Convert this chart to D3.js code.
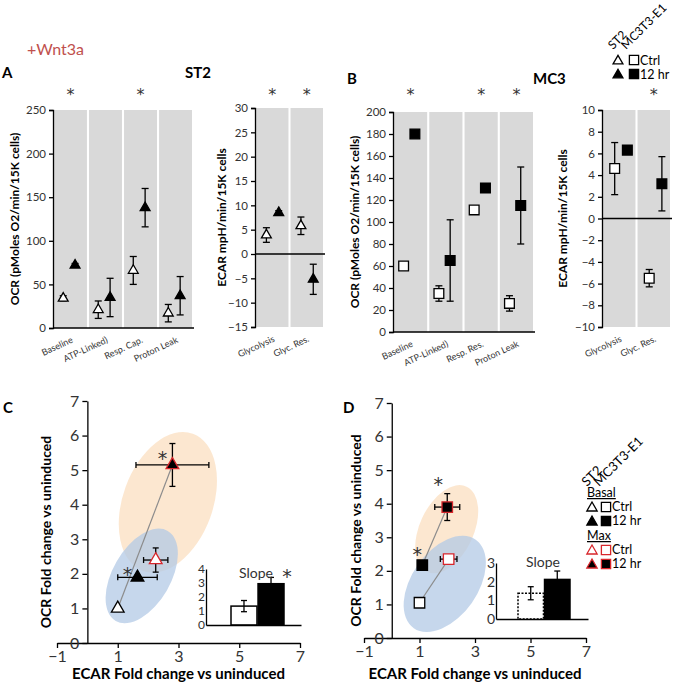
<!DOCTYPE html>
<html>
<head>
<meta charset="utf-8">
<script src="https://cdn.jsdelivr.net/npm/d3@7"></script>
<style>
body { margin: 0; background: #fff; }
text { font-family: Lato, "Open Sans", sans-serif; }
text.star { font-family: "DejaVu Sans", sans-serif; }
</style>
</head>
<body>
<div id="fig"></div>
<script>
// ---- top panels: OCR / ECAR, Ctrl vs 12 hr ----
var ocrCatsST2 = ["Baseline", "ATP-Linked)", "Resp. Cap.", "Proton Leak"];
var ocrCatsMC3 = ["Baseline", "ATP-Linked)", "Resp. Res.", "Proton Leak"];
var ecarCats = ["Glycolysis", "Glyc. Res."];

var st2OcrCtrl = [34, 21, 66, 17], st2OcrCtrlErr = [3, 10, 16, 10];
var st2Ocr12 = [72, 35, 138, 37], st2Ocr12Err = [2, 22, 22, 22];
var st2OcrSig = [1, 0, 1, 0];

var st2EcarCtrl = [3.9, 5.8], st2EcarCtrlErr = [1.5, 1.8];
var st2Ecar12 = [8.5, -5.2], st2Ecar12Err = [0.4, 3.1];
var st2EcarSig = [1, 1];

var mc3OcrCtrl = [60, 35, 111, 26], mc3OcrCtrlErr = [1, 7, 3, 7];
var mc3Ocr12 = [180, 65, 131, 115], mc3Ocr12Err = [1, 37, 1, 35];
var mc3OcrSig = [1, 0, 1, 1];

var mc3EcarCtrl = [4.6, -5.5], mc3EcarCtrlErr = [2.4, 0.8];
var mc3Ecar12 = [6.3, 3.2], mc3Ecar12Err = [0.3, 2.5];
var mc3EcarSig = [0, 1];

// ---- bottom panels: fold change vs uninduced (x = ECAR, y = OCR) ----
// order: [Ctrl, 12 hr]
var st2BasalX = [1, 1.65], st2BasalY = [1, 1.9], st2BasalXErr = [0, 0.65], st2BasalYErr = [0, 0];
var st2MaxX = [2.25, 2.8], st2MaxY = [2.4, 5.15], st2MaxXErr = [0.4, 1.2], st2MaxYErr = [0.35, 0.62];
var st2Slope = [1.35, 2.95], st2SlopeErr = [0.4, 0.45];

var mc3BasalX = [1, 1.1], mc3BasalY = [1.05, 2.17], mc3BasalXErr = [0, 0.15], mc3BasalYErr = [0, 0];
var mc3MaxX = [2.05, 2.0], mc3MaxY = [2.35, 3.9], mc3MaxXErr = [0.3, 0.45], mc3MaxYErr = [0.05, 0.4];
var mc3Slope = [1.38, 2.12], mc3SlopeErr = [0.35, 0.45];

var foldXTicks = [-1, 1, 3, 5, 7];
var foldYTicks = [0, 1, 2, 3, 4, 5, 6, 7];

var RED = "#d8262b";
var GREY = "#d9d9d9";
var FONT = "Lato, 'Open Sans', sans-serif";

var svg = d3.select("#fig").append("svg")
    .attr("width", 678)
    .attr("height", 684);

svg.append("rect").attr("width", 678).attr("height", 684).attr("fill", "#fff");

function addText(x, y, s, size, opts) {
    opts = opts || {};
    var t = svg.append("text")
        .attr("x", x)
        .attr("y", y)
        .attr("font-size", size + "px")
        .attr("font-weight", opts.bold ? "bold" : "normal")
        .attr("fill", opts.fill || "#000")
        .attr("text-anchor", opts.anchor || "start")
        .text(s);
    if (opts.rotate !== undefined) t.attr("transform", "rotate(" + opts.rotate + "," + x + "," + y + ")");
    if (opts.underline) t.attr("text-decoration", "underline");
    if (opts.cls) t.attr("class", opts.cls);
    return t;
}

function star(x, y, size) {
    return addText(x, y, "*", size, { anchor: "middle", fill: "#333", cls: "star" });
}

function marker(g, shape, cx, cy, size, fill, stroke) {
    g.append("path")
        .attr("d", d3.symbol().type(shape).size(size)())
        .attr("transform", "translate(" + cx + "," + cy + ")")
        .attr("fill", fill)
        .attr("stroke", stroke)
        .attr("stroke-width", 1.3);
}

function vErr(g, x, y1, y2, cap) {
    g.append("line").attr("x1", x).attr("x2", x).attr("y1", y1).attr("y2", y2)
        .attr("stroke", "#000").attr("stroke-width", 1.3);
    [y1, y2].forEach(function(yy) {
        g.append("line").attr("x1", x - cap).attr("x2", x + cap).attr("y1", yy).attr("y2", yy)
            .attr("stroke", "#000").attr("stroke-width", 1.3);
    });
}

function hErr(g, y, x1, x2, cap) {
    g.append("line").attr("x1", x1).attr("x2", x2).attr("y1", y).attr("y2", y)
        .attr("stroke", "#000").attr("stroke-width", 1.3);
    [x1, x2].forEach(function(xx) {
        g.append("line").attr("x1", xx).attr("x2", xx).attr("y1", y - cap).attr("y2", y + cap)
            .attr("stroke", "#000").attr("stroke-width", 1.3);
    });
}

// category panel with grey columns
function catPanel(o) {
    var g = svg.append("g");
    var x = d3.scaleBand().domain(o.cats).range([o.x0, o.x1]).paddingInner(0.06);
    var y = d3.scaleLinear().domain(o.dom).range([o.yb, o.yt]);
    var bw = x.bandwidth();

    g.selectAll(".col").data(o.cats).enter().append("rect")
        .attr("x", function(d) { return x(d); })
        .attr("y", o.yt)
        .attr("width", bw)
        .attr("height", o.yb - o.yt)
        .attr("fill", GREY);

    // zero line
    g.append("line")
        .attr("x1", o.x0 - 1).attr("x2", o.x1 + 2)
        .attr("y1", y(0)).attr("y2", y(0))
        .attr("stroke", "#000").attr("stroke-width", 1.5);

    var ax = g.append("g")
        .attr("transform", "translate(" + (o.x0 - 1) + ",0)")
        .call(d3.axisLeft(y).tickValues(o.ticks).tickFormat(d3.format("d")).tickSize(4).tickSizeOuter(4));
    ax.selectAll("path, line").attr("stroke", "#000").attr("stroke-width", 1.3);
    ax.selectAll("text").attr("font-size", "11.5px").attr("fill", "#333").style("font-family", FONT);

    // category labels
    o.cats.forEach(function(c) {
        addText(x(c) + bw / 2 + 3, o.yb + 14, c, 9, { anchor: "end", rotate: -25, fill: "#333" });
    });

    // significance
    o.cats.forEach(function(c, i) {
        if (o.sig[i]) star(x(c) + bw / 2, 100, 16);
    });

    o.cats.forEach(function(c, i) {
        var xc = x(c) + bw * o.posCtrl, x12 = x(c) + bw * o.pos12;
        if (o.ctrlErr[i] > 1.5 * (o.dom[1] - o.dom[0]) / 200)
            vErr(g, xc, y(o.ctrl[i] + o.ctrlErr[i]), y(o.ctrl[i] - o.ctrlErr[i]), 3.5);
        if (o.t12Err[i] > 1.5 * (o.dom[1] - o.dom[0]) / 200)
            vErr(g, x12, y(o.t12[i] + o.t12Err[i]), y(o.t12[i] - o.t12Err[i]), 3.5);
        marker(g, o.shape, xc, y(o.ctrl[i]), o.msize, "#fff", "#000");
        marker(g, o.shape, x12, y(o.t12[i]), o.msize, "#000", "#000");
    });

    var mid = (o.yt + o.yb) / 2;
    addText(o.labelX, mid, o.label, 12, { bold: true, anchor: "middle", rotate: -90 });
}

catPanel({ cats: ocrCatsST2, x0: 54, x1: 192, yt: 110, yb: 328, dom: [0, 250], ticks: [0, 50, 100, 150, 200, 250],
    ctrl: st2OcrCtrl, ctrlErr: st2OcrCtrlErr, t12: st2Ocr12, t12Err: st2Ocr12Err, sig: st2OcrSig,
    posCtrl: 0.28, pos12: 0.64, shape: d3.symbolTriangle, msize: 42,
    label: "OCR (pMoles O2/min/15K cells)", labelX: 19 });

catPanel({ cats: ecarCats, x0: 256, x1: 323, yt: 108, yb: 327, dom: [-15, 30], ticks: [-15, -10, -5, 0, 5, 10, 15, 20, 25, 30],
    ctrl: st2EcarCtrl, ctrlErr: st2EcarCtrlErr, t12: st2Ecar12, t12Err: st2Ecar12Err, sig: st2EcarSig,
    posCtrl: 0.32, pos12: 0.7, shape: d3.symbolTriangle, msize: 42,
    label: "ECAR mpH/min/15K cells", labelX: 226 });

catPanel({ cats: ocrCatsMC3, x0: 394, x1: 533, yt: 112, yb: 332, dom: [0, 200], ticks: [0, 20, 40, 60, 80, 100, 120, 140, 160, 180, 200],
    ctrl: mc3OcrCtrl, ctrlErr: mc3OcrCtrlErr, t12: mc3Ocr12, t12Err: mc3Ocr12Err, sig: mc3OcrSig,
    posCtrl: 0.29, pos12: 0.63, shape: d3.symbolSquare, msize: 95,
    label: "OCR (pMoles O2/min/15K cells)", labelX: 359 });

catPanel({ cats: ecarCats, x0: 603, x1: 670, yt: 110, yb: 327, dom: [-10, 10], ticks: [-10, -8, -6, -4, -2, 0, 2, 4, 6, 8, 10],
    ctrl: mc3EcarCtrl, ctrlErr: mc3EcarCtrlErr, t12: mc3Ecar12, t12Err: mc3Ecar12Err, sig: mc3EcarSig,
    posCtrl: 0.36, pos12: 0.75, shape: d3.symbolSquare, msize: 95,
    label: "ECAR mpH/min/15K cells", labelX: 567 });

// headings
addText(27, 55, "+Wnt3a", 16, { fill: "#c0504d" });
addText(2, 78, "A", 15, { bold: true });
addText(185, 78, "ST2", 15, { bold: true });
addText(347, 84, "B", 15, { bold: true });
addText(533, 84, "MC3", 15, { bold: true });
addText(3, 413, "C", 15, { bold: true });
addText(343, 413, "D", 15, { bold: true });

// top legend
addText(613, 50, "ST2", 12, { rotate: -45 });
addText(626, 50, "MC3T3-E1", 12, { rotate: -45 });
marker(svg, d3.symbolTriangle, 618, 61, 42, "#fff", "#000");
marker(svg, d3.symbolSquare, 634, 60, 85, "#fff", "#000");
addText(640, 65, "Ctrl", 12.5);
marker(svg, d3.symbolTriangle, 618, 75, 42, "#000", "#000");
marker(svg, d3.symbolSquare, 634, 74, 85, "#000", "#000");
addText(640, 79, "12 hr", 12.5);

// ---- fold change panels ----
function foldPanel(o) {
    var g = svg.append("g");
    var x = d3.scaleLinear().domain([-1, 7]).range(o.xr);
    var y = d3.scaleLinear().domain([0, 7]).range(o.yr);

    o.halos.forEach(function(h) {
        g.append("ellipse")
            .attr("transform", "translate(" + x(h.cx) + "," + y(h.cy) + ") rotate(" + h.rot + ")")
            .attr("rx", h.a).attr("ry", h.b)
            .attr("fill", h.fill).attr("opacity", h.op);
    });

    var xa = g.append("g").attr("transform", "translate(0," + y(0) + ")")
        .call(d3.axisBottom(x).tickValues(foldXTicks).tickFormat(d3.format("d")).tickSize(5).tickSizeOuter(0));
    var ya = g.append("g").attr("transform", "translate(" + x(0) + ",0)")
        .call(d3.axisLeft(y).tickValues(foldYTicks).tickFormat(d3.format("d")).tickSize(5).tickSizeOuter(0));
    [xa, ya].forEach(function(a) {
        a.selectAll("path, line").attr("stroke", "#000").attr("stroke-width", 1.3);
        a.selectAll("text").attr("font-size", "16px").attr("fill", "#333").style("font-family", FONT);
    });

    // connecting lines
    o.lines.forEach(function(l) {
        g.append("path")
            .attr("d", d3.line().x(function(d) { return x(d[0]); }).y(function(d) { return y(d[1]); })(l))
            .attr("fill", "none").attr("stroke", "#8c8c8c").attr("stroke-width", 1.2);
    });

    var series = [
        { X: o.basalX, Y: o.basalY, EX: o.basalXErr, EY: o.basalYErr, stroke: ["#000", "#000"], fill: ["#fff", "#000"] },
        { X: o.maxX, Y: o.maxY, EX: o.maxXErr, EY: o.maxYErr, stroke: [RED, RED], fill: ["#fff", "#000"] }
    ];
    series.forEach(function(s) {
        s.X.forEach(function(v, i) {
            if (s.EX[i] > 0) hErr(g, y(s.Y[i]), x(v - s.EX[i]), x(v + s.EX[i]), 3);
            if (s.EY[i] > 0.1) vErr(g, x(v), y(s.Y[i] + s.EY[i]), y(s.Y[i] - s.EY[i]), 3);
        });
    });
    series.forEach(function(s) {
        s.X.forEach(function(v, i) {
            marker(g, o.shape, x(v), y(s.Y[i]), o.msize, s.fill[i], s.stroke[i]);
        });
    });
    // significance marks next to the 12 hr points
    star(x(o.basalX[1]) + o.starB[0], y(o.basalY[1]) + o.starB[1], 19);
    star(x(o.maxX[1]) + o.starM[0], y(o.maxY[1]) + o.starM[1], 19);

    // slope inset
    var iy = d3.scaleLinear().domain([0, o.slopeMax]).range([o.inset.yb, o.inset.yt]);
    var ix = d3.scaleBand().domain(["Ctrl", "12 hr"]).range(o.inset.bars).paddingInner(0.04);
    ["Ctrl", "12 hr"].forEach(function(c, i) {
        var v = o.slope[i], e = o.slopeErr[i];
        var cx = ix(c) + ix.bandwidth() / 2;
        g.append("line").attr("x1", cx).attr("x2", cx).attr("y1", iy(v + e)).attr("y2", iy(i === 0 ? v - e : v))
            .attr("stroke", "#000").attr("stroke-width", 1.3);
        g.append("line").attr("x1", cx - 3).attr("x2", cx + 3).attr("y1", iy(v + e)).attr("y2", iy(v + e))
            .attr("stroke", "#000").attr("stroke-width", 1.3);
        if (i === 0) g.append("line").attr("x1", cx - 3).attr("x2", cx + 3).attr("y1", iy(v - e)).attr("y2", iy(v - e))
            .attr("stroke", "#000").attr("stroke-width", 1.3);
        g.append("rect")
            .attr("x", ix(c)).attr("y", iy(v))
            .attr("width", ix.bandwidth()).attr("height", iy(0) - iy(v))
            .attr("fill", i === 0 ? "none" : "#000")
            .attr("stroke", "#000").attr("stroke-width", 1.5)
            .attr("stroke-dasharray", (i === 0 && o.dashed) ? "2,1.5" : null);
    });
    var ia = g.append("g").attr("transform", "translate(" + o.inset.x0 + ",0)")
        .call(d3.axisLeft(iy).ticks(o.slopeMax).tickFormat(d3.format("d")).tickSize(0).tickPadding(1).tickSizeOuter(0));
    var ib = g.append("g").attr("transform", "translate(0," + iy(0) + ")")
        .call(d3.axisBottom(d3.scaleLinear().range([o.inset.x0, o.inset.x1])).tickValues([]).tickSizeOuter(0));
    [ia, ib].forEach(function(a) {
        a.selectAll("path, line").attr("stroke", "#000").attr("stroke-width", 1.3);
        a.selectAll("text").attr("font-size", o.inset.font + "px").attr("fill", "#333").style("font-family", FONT);
    });
    addText(o.inset.slopeX, o.inset.slopeY, "Slope", 14, { anchor: "middle", fill: "#333" });
    if (o.slopeStar) star(ix("12 hr") + ix.bandwidth() + 3, o.inset.slopeY + 5, 19);

    addText((o.xr[0] + o.xr[1]) / 2, 679, "ECAR Fold change vs uninduced", 15, { bold: true, anchor: "middle" });
    addText(o.ylabX, (o.yr[0] + o.yr[1]) / 2 + 10, "OCR Fold change vs uninduced", 14, { bold: true, anchor: "middle", rotate: -90 });
}

foldPanel({
    xr: [57, 300], yr: [643, 401], ylabX: 51,
    basalX: st2BasalX, basalY: st2BasalY, basalXErr: st2BasalXErr, basalYErr: st2BasalYErr,
    maxX: st2MaxX, maxY: st2MaxY, maxXErr: st2MaxXErr, maxYErr: st2MaxYErr,
    lines: [[[st2BasalX[0], st2BasalY[0]], [st2MaxX[1], st2MaxY[1]]]],
    shape: d3.symbolTriangle, msize: 70,
    halos: [
        { cx: 2.65, cy: 4.07, a: 73, b: 45, rot: -70, fill: "#fbe3c8", op: 0.85 },
        { cx: 1.79, cy: 1.94, a: 52, b: 29, rot: -60, fill: "#b3c9e6", op: 0.75 }
    ],
    starB: [-10, 4], starM: [-10, 0],
    slope: st2Slope, slopeErr: st2SlopeErr, slopeMax: 4, slopeStar: true, dashed: false,
    inset: { x0: 206, x1: 301, yb: 625, yt: 569, bars: [231, 284], slopeX: 256, slopeY: 578, font: 12 }
});

foldPanel({
    xr: [364, 586], yr: [638, 403], ylabX: 361,
    basalX: mc3BasalX, basalY: mc3BasalY, basalXErr: mc3BasalXErr, basalYErr: mc3BasalYErr,
    maxX: mc3MaxX, maxY: mc3MaxY, maxXErr: mc3MaxXErr, maxYErr: mc3MaxYErr,
    lines: [[[mc3BasalX[0], mc3BasalY[0]], [mc3MaxX[0], mc3MaxY[0]]], [[mc3BasalX[1], mc3BasalY[1]], [mc3MaxX[1], mc3MaxY[1]]]],
    shape: d3.symbolSquare, msize: 110,
    halos: [
        { cx: 1.98, cy: 3.24, a: 47, b: 27, rot: -65, fill: "#fbe3c8", op: 0.85 },
        { cx: 1.91, cy: 1.61, a: 54, b: 33, rot: -55, fill: "#b3c9e6", op: 0.75 }
    ],
    starB: [-5, -4], starM: [-9, -16],
    slope: mc3Slope, slopeErr: mc3SlopeErr, slopeMax: 3, slopeStar: false, dashed: true,
    inset: { x0: 496, x1: 588, yb: 619, yt: 563, bars: [518, 570], slopeX: 543, slopeY: 567, font: 14 }
});

// bottom legend
addText(587, 487, "ST2", 13, { rotate: -45 });
addText(599, 487, "MC3T3-E1", 13, { rotate: -45 });
addText(587, 497, "Basal", 12.5, { underline: true });
marker(svg, d3.symbolTriangle, 592, 508, 46, "#fff", "#000");
marker(svg, d3.symbolSquare, 606, 507, 85, "#fff", "#000");
addText(612, 511, "Ctrl", 12.5);
marker(svg, d3.symbolTriangle, 592, 522, 46, "#000", "#000");
marker(svg, d3.symbolSquare, 606, 521, 85, "#000", "#000");
addText(612, 525, "12 hr", 12.5);
addText(587, 540, "Max", 12.5, { underline: true });
marker(svg, d3.symbolTriangle, 592, 551, 46, "#fff", RED);
marker(svg, d3.symbolSquare, 606, 550, 85, "#fff", RED);
addText(612, 554, "Ctrl", 12.5);
marker(svg, d3.symbolTriangle, 592, 565, 46, "#000", RED);
marker(svg, d3.symbolSquare, 606, 564, 85, "#000", RED);
addText(612, 568, "12 hr", 12.5);
</script>
</body>
</html>
